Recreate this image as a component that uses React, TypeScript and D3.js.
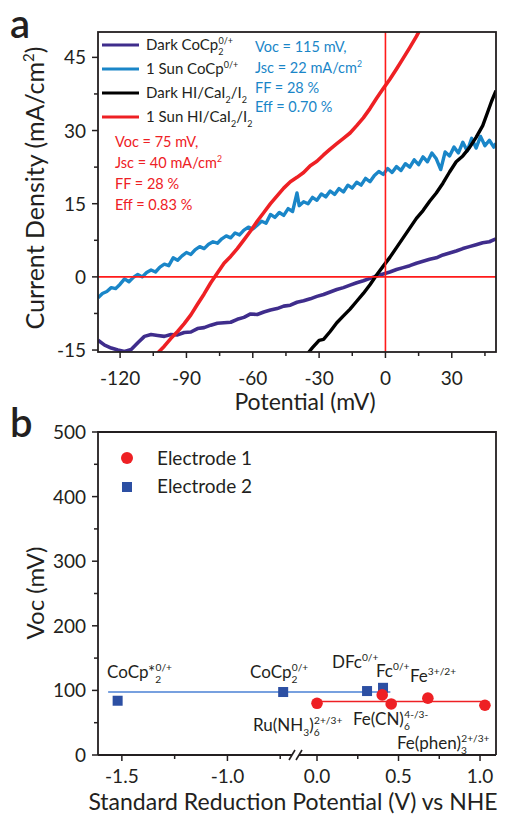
import React from 'react';
import * as d3 from 'd3';

const FONT = 'Lato, "Open Sans", sans-serif';

// ---------- Panel a data: [potential (mV), current density (mA/cm2)] ----------
const darkCoCp: [number, number][] = [
  [-130, -13.0], [-127, -14.0], [-124, -14.6], [-121, -15.0], [-118, -15.3], [-115, -14.9],
  [-112, -13.5], [-109, -12.2], [-106, -11.8], [-103, -12.0], [-100, -12.2], [-97, -11.8],
  [-94, -11.9], [-91, -11.4], [-88, -11.3], [-85, -10.6], [-82, -10.4], [-79, -9.9],
  [-76, -9.5], [-73, -9.4], [-70, -9.3], [-67, -8.7], [-64, -8.3], [-61, -7.6], [-58, -7.7],
  [-55, -7.2], [-52, -6.8], [-49, -6.5], [-46, -6.0], [-43, -5.8], [-40, -5.2], [-37, -4.9],
  [-34, -4.5], [-31, -4.0], [-28, -3.6], [-25, -3.1], [-22, -2.6], [-19, -2.2], [-16, -1.7],
  [-13, -1.2], [-10, -0.8], [-7, -0.3], [-4, 0.2], [-1, 0.6], [2, 1.0], [5, 1.5], [8, 1.9],
  [11, 2.3], [14, 2.8], [17, 3.2], [20, 3.6], [23, 3.9], [26, 4.5], [29, 4.9], [32, 5.3],
  [35, 5.8], [38, 6.2], [41, 6.6], [44, 7.0], [47, 7.2], [50, 7.8],
];

const sunCoCp: [number, number][] = [
  [-130, -4.3], [-128, -3.4], [-126, -3.0], [-124, -2.2], [-122, -2.4], [-120, -1.5], [-118, -0.4],
  [-116, -1.0], [-114, -0.1], [-112, 0.5], [-110, 0.0], [-108, 0.9], [-106, 1.4], [-104, 1.0],
  [-102, 2.0], [-100, 2.6], [-98, 2.3], [-96, 3.9], [-94, 3.4], [-92, 4.3], [-90, 5.0], [-88, 4.6],
  [-86, 5.6], [-84, 6.2], [-82, 5.8], [-80, 6.7], [-78, 7.2], [-76, 6.9], [-74, 7.8], [-72, 8.4],
  [-70, 8.0], [-68, 9.0], [-66, 8.6], [-64, 9.6], [-62, 10.2], [-60, 9.8], [-58, 10.6], [-56, 11.4],
  [-54, 11.0], [-52, 12.8], [-50, 12.2], [-48, 13.2], [-46, 12.6], [-44, 14.0], [-42, 13.4],
  [-40, 17.2], [-39, 14.6], [-37, 15.4], [-35, 15.0], [-33, 16.3], [-31, 15.7], [-29, 17.0],
  [-27, 16.4], [-25, 17.6], [-23, 16.9], [-21, 18.1], [-19, 17.4], [-17, 18.8], [-15, 18.2],
  [-13, 19.4], [-11, 18.8], [-9, 20.2], [-7, 19.5], [-5, 20.8], [-3, 21.6], [-1, 21.0], [1, 22.2],
  [3, 21.4], [5, 22.6], [7, 21.8], [9, 23.2], [11, 22.5], [13, 24.0], [15, 23.0], [17, 24.6],
  [19, 23.6], [21, 25.4], [23, 24.2], [25, 22.0], [27, 25.6], [29, 24.8], [31, 26.6], [33, 25.4],
  [35, 27.6], [37, 25.8], [39, 28.4], [41, 26.4], [43, 28.8], [45, 26.9], [47, 28.0], [49, 26.6],
  [50, 27.4],
];

const darkHI: [number, number][] = [
  [-35, -15.6], [-33, -14.5], [-30, -13.0], [-28, -12.8], [-25, -11.2], [-22, -9.4], [-19, -8.0],
  [-16, -6.6], [-13, -5.0], [-10, -3.4], [-7, -1.6], [-4, 0.4], [-1, 2.2], [2, 4.0], [5, 6.0],
  [8, 8.0], [11, 10.0], [14, 12.0], [17, 13.6], [20, 15.5], [23, 17.2], [26, 19.2], [29, 21.5],
  [32, 23.6], [35, 24.8], [38, 26.5], [41, 28.6], [44, 31.0], [46, 33.5], [48, 36.0], [50, 38.2],
];

const sunHI: [number, number][] = [
  [-103, -15.6], [-100, -14.2], [-97, -12.6], [-94, -11.2], [-91, -9.6], [-88, -7.8], [-85, -5.6],
  [-82, -3.5], [-79, -1.2], [-76, 0.8], [-73, 2.8], [-70, 4.2], [-67, 5.8], [-64, 7.6], [-61, 9.4],
  [-58, 11.4], [-55, 13.2], [-52, 15.0], [-49, 16.6], [-46, 18.2], [-43, 19.5], [-40, 20.4],
  [-37, 21.4], [-34, 22.8], [-31, 23.7], [-28, 25.0], [-25, 26.2], [-22, 27.3], [-19, 28.4],
  [-16, 29.5], [-13, 31.0], [-10, 32.6], [-7, 34.5], [-4, 36.6], [-1, 38.6], [2, 40.5], [5, 42.6],
  [8, 44.8], [11, 47.0], [14, 49.3], [16, 51.0],
];

const aXTicks = [-120, -90, -60, -30, 0, 30];
const aXMinor = [-105, -75, -45, -15, 15, 45];
const aYTicks = [-15, 0, 15, 30, 45];
const aYMinor = [-7.5, 7.5, 22.5, 37.5];

// ---------- Panel b data ----------
const e1Potential = [0.0, 0.40, 0.455, 0.68, 1.03];
const e1Voc = [80, 93, 79, 88, 77];
const e2Potential = [-1.52, -0.736, 0.307, 0.405];
const e2Voc = [84, 97.5, 99, 104];
const e1Fit: [number, number][] = [[0.0, 83], [1.03, 83]];
const e2Fit: [number, number][] = [[-1.565, 97.5], [0.45, 97.5]];

const bXTicks = [-1.5, -1.0, 0.0, 0.5, 1.0];
const bXMinor = [-1.25, -0.75, 0.25, 0.75];
const bYTicks = [0, 100, 200, 300, 400, 500];
const bYMinor = [50, 150, 250, 350, 450];

const RED = '#ee2024';
const BLUE = '#1a86c8';
const PURPLE = '#3f2d8c';
const SQ = '#2c4fa3';
const FITBLUE = '#4a80d4';
const INK = '#231f20';

type Part = { t: string; s?: 'sub' | 'sup' | 'supStack' };

function Rich({ x, y, size, fill = INK, parts, anchor = 'start', ratio = 0.6 }:
  { x: number; y: number; size: number; fill?: string; parts: Part[]; anchor?: string; ratio?: number }) {
  let cur = 0;
  let prevSubW = 0;
  const spans = parts.map((p, i) => {
    let target = 0;
    let fs = size;
    let dx = 0;
    if (p.s === 'sub') { target = size * 0.32; fs = size * ratio; }
    else if (p.s === 'sup' || p.s === 'supStack') { target = -size * 0.42; fs = size * ratio; }
    if (p.s === 'supStack') dx = -prevSubW;
    const dy = target - cur;
    cur = target;
    prevSubW = p.s === 'sub' ? p.t.length * fs * 0.55 : 0;
    return (
      <tspan key={i} dy={dy || undefined} dx={dx || undefined} fontSize={fs}>{p.t}</tspan>
    );
  });
  return (
    <text x={x} y={y} fontSize={size} fill={fill} fontFamily={FONT} textAnchor={anchor as any}>
      {spans}
    </text>
  );
}

export default function App() {
  // Panel a geometry
  const aL = 98, aR = 496, aT = 32, aB = 352;
  const xa = d3.scaleLinear().domain([-130, 50]).range([aL, aR]);
  const ya = d3.scaleLinear().domain([-15.4, 50.2]).range([aB, aT]);
  const lineA = d3.line<[number, number]>().x(d => xa(d[0])).y(d => ya(d[1]));

  // Panel b geometry (broken x axis)
  const bL = 98, bR = 496, bT = 432, bB = 755, brk = 295;
  const xb = d3.scaleLinear().domain([-1.613, -0.68, -0.135, 1.098]).range([bL, brk, brk, bR]);
  const yb = d3.scaleLinear().domain([0, 500]).range([bB, bT]);
  const lineB = d3.line<[number, number]>().x(d => xb(d[0])).y(d => yb(d[1]));

  const legendA: { parts: Part[]; color: string }[] = [
    { parts: [{ t: 'Dark CoCp' }, { t: '2', s: 'sub' }, { t: '0/+', s: 'supStack' }], color: PURPLE },
    { parts: [{ t: '1 Sun CoCp' }, { t: '0/+', s: 'sup' }], color: BLUE },
    { parts: [{ t: 'Dark HI/CaI' }, { t: '2', s: 'sub' }, { t: '/I' }, { t: '2', s: 'sub' }], color: '#000' },
    { parts: [{ t: '1 Sun HI/CaI' }, { t: '2', s: 'sub' }, { t: '/I' }, { t: '2', s: 'sub' }], color: RED },
  ];

  const clipA = 'clipA';

  return (
    <svg width={515} height={816} style={{ position: 'absolute', left: 0, top: 0, background: '#fff' }}>
      <defs>
        <clipPath id={clipA}><rect x={aL} y={aT} width={aR - aL} height={aB - aT} /></clipPath>
      </defs>
      <rect x={0} y={0} width={515} height={816} fill="#fff" />

      {/* ---------------- Panel a ---------------- */}
      <text x={10} y={38} fontSize={40} fontFamily={FONT} fontWeight={600} fill={INK}>a</text>

      <g clipPath={`url(#${clipA})`}>
        <path d={lineA(darkCoCp) || ''} fill="none" stroke={PURPLE} strokeWidth={3.6} strokeLinejoin="round" />
        <path d={lineA(sunCoCp) || ''} fill="none" stroke={BLUE} strokeWidth={3.4} strokeLinejoin="round" />
        <path d={lineA(darkHI) || ''} fill="none" stroke="#000" strokeWidth={3.4} strokeLinejoin="round" />
        <path d={lineA(sunHI) || ''} fill="none" stroke={RED} strokeWidth={3.6} strokeLinejoin="round" />
        <line x1={xa(0)} x2={xa(0)} y1={aT} y2={aB} stroke="#ff1a1a" strokeWidth={1.6} />
        <line x1={aL} x2={aR} y1={ya(0)} y2={ya(0)} stroke="#ff1a1a" strokeWidth={1.6} />
      </g>

      <rect x={aL} y={aT} width={aR - aL} height={aB - aT} fill="none" stroke={INK} strokeWidth={1.8} />

      {aXTicks.map(t => (
        <g key={'ax' + t}>
          <line x1={xa(t)} x2={xa(t)} y1={aB} y2={aB + 6} stroke={INK} strokeWidth={1.5} />
          <text x={xa(t)} y={385} fontSize={19} fontFamily={FONT} textAnchor="middle" fill={INK}>{t}</text>
        </g>
      ))}
      {aXMinor.map(t => (
        <line key={'axm' + t} x1={xa(t)} x2={xa(t)} y1={aB} y2={aB + 4} stroke={INK} strokeWidth={1.5} />
      ))}
      {aYTicks.map(t => (
        <g key={'ay' + t}>
          <line x1={aL - 6} x2={aL} y1={ya(t)} y2={ya(t)} stroke={INK} strokeWidth={1.5} />
          <text x={86} y={ya(t) + 7} fontSize={19} fontFamily={FONT} textAnchor="end" fill={INK}>{t}</text>
        </g>
      ))}
      {aYMinor.map(t => (
        <line key={'aym' + t} x1={aL - 4} x2={aL} y1={ya(t)} y2={ya(t)} stroke={INK} strokeWidth={1.5} />
      ))}

      <text x={(aL + aR) / 2 + 8} y={410} fontSize={23} fontFamily={FONT} textAnchor="middle" fill={INK}>Potential (mV)</text>
      <g transform={`translate(44, 188) rotate(-90)`}>
        <Rich x={0} y={0} size={25} anchor="middle" parts={[{ t: 'Current Density (mA/cm' }, { t: '2', s: 'sup' }, { t: ')' }]} />
      </g>

      {legendA.map((l, i) => (
        <g key={'lg' + i}>
          <line x1={102} x2={139} y1={45 + i * 24} y2={45 + i * 24} stroke={l.color} strokeWidth={3} />
          <Rich x={146} y={50 + i * 24} size={15} parts={l.parts} />
        </g>
      ))}

      <g>
        <text x={115} y={147} fontSize={14.5} fontFamily={FONT} fill={RED}>Voc = 75 mV,</text>
        <Rich x={115} y={168} size={14.5} fill={RED} parts={[{ t: 'Jsc = 40 mA/cm' }, { t: '2', s: 'sup' }]} />
        <text x={115} y={189} fontSize={14.5} fontFamily={FONT} fill={RED}>FF = 28 %</text>
        <text x={115} y={210} fontSize={14.5} fontFamily={FONT} fill={RED}>Eff = 0.83 %</text>
      </g>
      <g>
        <text x={255} y={52} fontSize={14.5} fontFamily={FONT} fill={BLUE}>Voc = 115 mV,</text>
        <Rich x={255} y={73} size={14.5} fill={BLUE} parts={[{ t: 'Jsc = 22 mA/cm' }, { t: '2', s: 'sup' }]} />
        <text x={255} y={93} fontSize={14.5} fontFamily={FONT} fill={BLUE}>FF = 28 %</text>
        <text x={255} y={112} fontSize={14.5} fontFamily={FONT} fill={BLUE}>Eff = 0.70 %</text>
      </g>

      {/* ---------------- Panel b ---------------- */}
      <text x={10} y={437} fontSize={40} fontFamily={FONT} fontWeight={600} fill={INK}>b</text>

      <path d={lineB(e2Fit) || ''} fill="none" stroke={FITBLUE} strokeWidth={1.5} />
      <path d={lineB(e1Fit) || ''} fill="none" stroke={RED} strokeWidth={1.5} />

      {e2Potential.map((e, i) => (
        <rect key={'sq' + i} x={xb(e) - 5} y={yb(e2Voc[i]) - 5} width={10} height={10} fill={SQ} />
      ))}
      {e1Potential.map((e, i) => (
        <circle key={'ci' + i} cx={xb(e)} cy={yb(e1Voc[i])} r={5.8} fill={RED} />
      ))}

      {/* frame: left, top, right */}
      <path d={`M${bL},${bB} L${bL},${bT} L${bR},${bT} L${bR},${bB}`} fill="none" stroke={INK} strokeWidth={1.8} />
      {/* bottom axis with break */}
      <line x1={bL} x2={brk - 3} y1={bB} y2={bB} stroke={INK} strokeWidth={1.8} />
      <line x1={brk + 4} x2={bR} y1={bB} y2={bB} stroke={INK} strokeWidth={1.8} />
      <line x1={brk - 6} x2={brk} y1={bB + 5} y2={bB - 5} stroke={INK} strokeWidth={1.6} />
      <line x1={brk + 1} x2={brk + 7} y1={bB + 5} y2={bB - 5} stroke={INK} strokeWidth={1.6} />

      {bXTicks.map(t => (
        <g key={'bx' + t}>
          <line x1={xb(t)} x2={xb(t)} y1={bB} y2={bB + 6} stroke={INK} strokeWidth={1.5} />
          <text x={xb(t)} y={783} fontSize={19} fontFamily={FONT} textAnchor="middle" fill={INK}>{t.toFixed(1)}</text>
        </g>
      ))}
      {bXMinor.map(t => (
        <line key={'bxm' + t} x1={xb(t)} x2={xb(t)} y1={bB} y2={bB + 4} stroke={INK} strokeWidth={1.5} />
      ))}
      {bYTicks.map(t => (
        <g key={'by' + t}>
          <line x1={bL - 6} x2={bL} y1={yb(t)} y2={yb(t)} stroke={INK} strokeWidth={1.5} />
          <text x={86} y={yb(t) + 7} fontSize={19} fontFamily={FONT} textAnchor="end" fill={INK}>{t}</text>
        </g>
      ))}
      {bYMinor.map(t => (
        <line key={'bym' + t} x1={bL - 4} x2={bL} y1={yb(t)} y2={yb(t)} stroke={INK} strokeWidth={1.5} />
      ))}

      <text x={(bL + bR) / 2 - 4} y={810} fontSize={23} fontFamily={FONT} textAnchor="middle" fill={INK}>Standard Reduction Potential (V) vs NHE</text>
      <text transform={`translate(44, 593) rotate(-90)`} fontSize={24} fontFamily={FONT} textAnchor="middle" fill={INK}>Voc (mV)</text>

      {/* legend b */}
      <circle cx={127} cy={458} r={6} fill={RED} />
      <text x={157} y={465} fontSize={19} fontFamily={FONT} fill={INK}>Electrode 1</text>
      <rect x={122} y={482} width={10} height={10} fill={SQ} />
      <text x={157} y={493} fontSize={19} fontFamily={FONT} fill={INK}>Electrode 2</text>

      {/* point labels */}
      <Rich x={107} y={678} size={17} parts={[{ t: 'CoCp*' }, { t: '2', s: 'sub' }, { t: '0/+', s: 'supStack' }]} />
      <Rich x={250} y={678} size={17} parts={[{ t: 'CoCp' }, { t: '2', s: 'sub' }, { t: '0/+', s: 'supStack' }]} />
      <Rich x={332} y={668} size={17} parts={[{ t: 'DFc' }, { t: '0/+', s: 'sup' }]} />
      <Rich x={376} y={677} size={17} parts={[{ t: 'Fc' }, { t: '0/+', s: 'sup' }]} />
      <Rich x={410} y={682} size={17} parts={[{ t: 'Fe' }, { t: '3+/2+', s: 'sup' }]} />
      <Rich x={253} y={731} size={17} parts={[{ t: 'Ru(NH' }, { t: '3', s: 'sub' }, { t: ')' }, { t: '6', s: 'sub' }, { t: '2+/3+', s: 'supStack' }]} />
      <Rich x={353} y={725} size={17} parts={[{ t: 'Fe(CN)' }, { t: '6', s: 'sub' }, { t: '4-/3-', s: 'supStack' }]} />
      <Rich x={397} y={749} size={17} parts={[{ t: 'Fe(phen)' }, { t: '3', s: 'sub' }, { t: '2+/3+', s: 'supStack' }]} />
    </svg>
  );
}
